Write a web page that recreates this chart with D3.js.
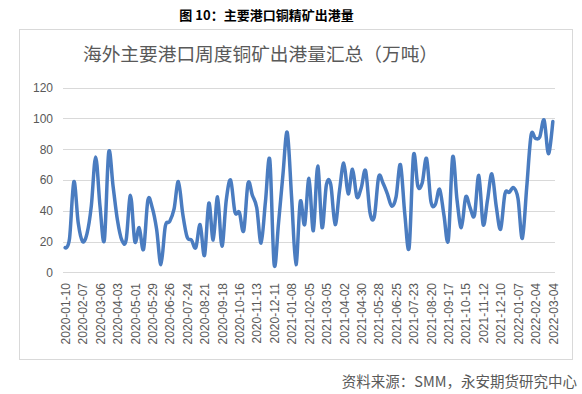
<!DOCTYPE html>
<html>
<head>
<meta charset="utf-8">
<script src="https://cdn.jsdelivr.net/npm/d3@7"></script>
<style>
  html, body { margin: 0; padding: 0; background: #ffffff; }
  svg { display: block; }
  text { font-family: "Liberation Sans", Arial, "Noto Sans CJK SC", sans-serif; }
</style>
</head>
<body>
<script>
// ---- data ----
const firstWeek = "2020-01-10";
const weekCount = 113;
const values = [
  16, 22, 59, 32, 20, 25, 43, 75, 43, 21,
  78, 56, 34, 21, 21, 50, 20, 29, 15, 47,
  42, 28, 5, 30, 33, 41, 59, 38, 23, 21,
  16, 31, 11, 45, 21, 49, 17, 47, 60, 39,
  39, 27, 58, 50, 42, 19, 46, 73, 5, 32,
  63, 91, 49, 5, 46, 31, 61, 27, 69, 29,
  57, 57, 31, 53, 71, 51, 67, 49, 55, 66,
  39, 36, 62, 58, 51, 43, 49, 70, 38, 16,
  76, 56, 58, 74, 46, 44, 54, 37, 21, 75,
  47, 29, 49, 42, 37, 63, 31, 47, 64, 43,
  28, 51, 52, 55, 48, 22, 55, 89, 87, 88,
  99, 77, 98
];
const tickLabels = [
  "2020-01-10","2020-02-07","2020-03-06","2020-04-03","2020-05-01","2020-05-29",
  "2020-06-26","2020-07-24","2020-08-21","2020-09-18","2020-10-16","2020-11-13",
  "2020-12-11","2021-01-08","2021-02-05","2021-03-05","2021-04-02","2021-04-30",
  "2021-05-28","2021-06-25","2021-07-23","2021-08-20","2021-09-17","2021-10-15",
  "2021-11-12","2021-12-10","2022-01-07","2022-02-04","2022-03-04"
];
const yTicks = [0, 20, 40, 60, 80, 100, 120];
const caption = "图 10：主要港口铜精矿出港量";
const chartTitle = "海外主要港口周度铜矿出港量汇总（万吨）";
const sourceNote = "资料来源：SMM，永安期货研究中心";

// categories: weekly dates
const parse = d3.timeParse("%Y-%m-%d");
const fmt = d3.timeFormat("%Y-%m-%d");
const categories = d3.range(weekCount).map(i => fmt(d3.timeWeek.offset(parse(firstWeek), i)));
const data = categories.map((c, i) => ({ c, v: values[i] }));

// ---- layout ----
const W = 582, H = 394;
const svg = d3.select("body").append("svg").attr("width", W).attr("height", H);

svg.append("rect").attr("x", 0).attr("y", 0).attr("width", W).attr("height", H).attr("fill", "#ffffff");

// caption
svg.append("text")
  .attr("x", 266.5).attr("y", 14)
  .attr("text-anchor", "middle").attr("dominant-baseline", "central")
  .style("font-family", "'Noto Sans CJK SC', sans-serif")
  .style("font-weight", "bold").style("font-size", "13px").attr("fill", "#000")
  .text(caption);

// chart frame
svg.append("rect")
  .attr("x", 19.5).attr("y", 29.5).attr("width", 553).attr("height", 330)
  .attr("fill", "#ffffff").attr("stroke", "#d9d9d9").attr("stroke-width", 1);

// chart title
svg.append("text")
  .attr("x", 83).attr("y", 52.5)
  .attr("text-anchor", "start").attr("dominant-baseline", "central")
  .style("font-family", "'Noto Sans CJK SC', sans-serif")
  .style("font-size", "18.7px").attr("fill", "#595959")
  .text(chartTitle);

// scales
const x = d3.scalePoint().domain(categories).range([63, 555]).padding(0.5);
const y = d3.scaleLinear().domain([0, 120]).range([272.3, 87.7]);

// gridlines
svg.append("g").selectAll("line").data(yTicks).join("line")
  .attr("x1", 63).attr("x2", 555)
  .attr("y1", d => Math.round(y(d)) + 0.5).attr("y2", d => Math.round(y(d)) + 0.5)
  .attr("stroke", "#d9d9d9").attr("stroke-width", 1);

// y axis labels
const yAxis = d3.axisLeft(y).tickValues(yTicks).tickSize(0).tickPadding(0);
const gy = svg.append("g").attr("transform", "translate(53,0)").call(yAxis);
gy.select(".domain").remove();
gy.selectAll("text").style("font-size", "12px").attr("fill", "#595959")
  .style("font-family", "'Liberation Sans', Arial, sans-serif");

// x axis labels
const xAxis = d3.axisBottom(x).tickValues(tickLabels).tickSize(0).tickPadding(0);
const gx = svg.append("g").attr("transform", "translate(0,283)").call(xAxis);
gx.select(".domain").remove();
gx.selectAll("text")
  .attr("transform", "rotate(-90)")
  .attr("text-anchor", "end")
  .attr("x", 0).attr("y", 0).attr("dy", "0.35em")
  .style("font-size", "12px").attr("fill", "#595959")
  .style("font-family", "'Liberation Sans', Arial, sans-serif");

// line
const line = d3.line().x(d => x(d.c)).y(d => y(d.v)).curve(d3.curveCardinal.tension(0));
svg.append("path").datum(data)
  .attr("d", line)
  .attr("fill", "none").attr("stroke", "#4a7cc0").attr("stroke-width", 3.5)
  .attr("stroke-linejoin", "round").attr("stroke-linecap", "round");

// source note
svg.append("text")
  .attr("x", 577).attr("y", 380)
  .attr("text-anchor", "end").attr("dominant-baseline", "central")
  .style("font-family", "'Noto Sans CJK SC', sans-serif")
  .style("font-size", "14.5px").attr("fill", "#595959")
  .text(sourceNote);
</script>
</body>
</html>
